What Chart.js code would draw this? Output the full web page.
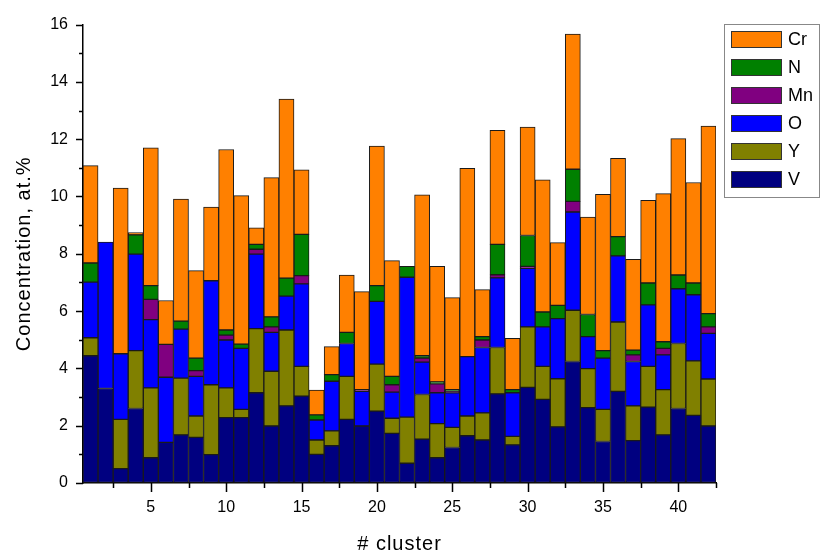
<!DOCTYPE html>
<html>
<head>
<meta charset="utf-8">
<script src="https://cdn.jsdelivr.net/npm/chart.js@4/dist/chart.umd.min.js"></script>
<style>
    html, body { margin: 0; padding: 0; background: #fff; }
</style>
</head>
<body>
<canvas id="clusterChart" width="821" height="553"></canvas>
<script>
// cluster numbers and element concentrations (at.%) per cluster, stacked bottom -> top
const clusters = [1, 2, 3, 4, 5, 6, 7, 8, 9, 10, 11, 12, 13, 14, 15, 16, 17, 18, 19, 20, 21,
                  22, 23, 24, 25, 26, 27, 28, 29, 30, 31, 32, 33, 34, 35, 36, 37, 38, 39, 40, 41, 42];
const V  = [4.44, 3.30, 0.50, 2.60, 0.88, 1.42, 1.68, 1.59, 0.99, 2.28, 2.28, 3.15, 1.99, 2.69, 3.03, 1.00, 1.30, 2.22, 1.99, 2.51, 1.73,
            0.69, 1.53, 0.88, 1.24, 1.65, 1.50, 3.11, 1.33, 3.34, 2.92, 1.96, 4.24, 2.63, 1.45, 3.20, 1.48, 2.65, 1.68, 2.60, 2.36, 1.99];
const Y  = [0.63, 0, 1.72, 2.02, 2.44, 0, 1.98, 0.75, 2.44, 1.04, 0.29, 2.24, 1.91, 2.65, 1.04, 0.50, 0.52, 1.50, 0, 1.64, 0.53,
            1.61, 1.56, 1.19, 0.70, 0.69, 0.95, 1.62, 0.30, 2.11, 1.15, 1.68, 1.79, 1.36, 1.12, 2.42, 1.21, 1.42, 1.58, 2.27, 1.90, 1.64];
const O  = [1.94, 5.11, 2.29, 3.37, 2.38, 2.27, 1.71, 1.38, 3.63, 1.67, 2.13, 2.60, 1.36, 1.18, 2.88, 0.70, 1.73, 1.15, 1.21, 2.19, 0.91,
            4.88, 1.13, 1.08, 1.21, 2.07, 2.28, 2.43, 1.52, 2.04, 1.38, 2.10, 3.43, 1.12, 1.79, 2.31, 1.55, 2.15, 1.21, 1.91, 2.31, 1.59];
const Mn = [0, 0, 0, 0, 0.71, 1.15, 0, 0.20, 0, 0.17, 0, 0.17, 0.19, 0, 0.29, 0, 0, 0, 0.06, 0, 0.26,
            0, 0.14, 0.31, 0.05, 0, 0.26, 0.11, 0, 0.07, 0, 0, 0.37, 0, 0, 0, 0.23, 0, 0.23, 0, 0, 0.23];
const N  = [0.67, 0, 0, 0.67, 0.48, 0, 0.28, 0.44, 0, 0.18, 0.15, 0.17, 0.35, 0.63, 1.44, 0.18, 0.23, 0.39, 0, 0.55, 0.29,
            0.38, 0.08, 0.07, 0.06, 0, 0.12, 1.06, 0.11, 1.08, 0.52, 0.46, 1.12, 0.77, 0.26, 0.67, 0.17, 0.76, 0.23, 0.48, 0.41, 0.46];
const Cr = [3.40, 0, 5.78, 0.08, 4.81, 1.53, 4.26, 3.05, 2.57, 6.30, 5.18, 0.58, 4.86, 6.25, 2.25, 0.86, 0.98, 2.00, 3.42, 4.87, 4.04,
            0, 5.62, 4.03, 3.21, 6.57, 1.64, 3.98, 1.79, 3.78, 4.61, 2.19, 4.72, 3.40, 5.46, 2.73, 3.17, 2.89, 5.17, 4.76, 3.51, 6.55];

const yTickLabels = [0, 2, 4, 6, 8, 10, 12, 14, 16];
const xTickLabels = [5, 10, 15, 20, 25, 30, 35, 40];

const FONT = "'Liberation Sans', Arial, sans-serif";

function series(label, values, color) {
    return {
        label: label,
        data: values.map((v, i) => ({ x: clusters[i], y: v })),
        backgroundColor: color,
        borderColor: '#1a1a1a',
        borderWidth: 1,
        borderSkipped: false,
        barPercentage: 1.0,
        categoryPercentage: 1.0
    };
}

// minor/major tick marks, axis titles and the boxed legend
const decorations = {
    id: 'decorations',
    afterDraw(chart) {
        const { ctx, chartArea, scales: { x, y } } = chart;
        ctx.save();
        ctx.strokeStyle = '#000';
        ctx.lineWidth = 1.5;
        ctx.beginPath();
        for (let v = 0; v <= 16; v++) {
            const py = Math.round(y.getPixelForValue(v)) + 0.5;
            const len = v % 2 ? 4 : 7;
            ctx.moveTo(chartArea.left, py);
            ctx.lineTo(chartArea.left - len, py);
        }
        for (let v = 2.5; v <= 42.5; v += 2.5) {
            const px = Math.round(x.getPixelForValue(v)) + 0.5;
            const len = v % 5 ? 5 : 9;
            ctx.moveTo(px, chartArea.bottom);
            ctx.lineTo(px, chartArea.bottom + len);
        }
        ctx.stroke();

        // axis titles
        ctx.fillStyle = '#000';
        ctx.font = '20px ' + FONT;
        ctx.letterSpacing = '1px';
        ctx.textAlign = 'center';
        ctx.textBaseline = 'middle';
        ctx.fillText('# cluster', (chartArea.left + chartArea.right) / 2, 544);
        ctx.save();
        ctx.translate(24, (chartArea.top + chartArea.bottom) / 2);
        ctx.rotate(-Math.PI / 2);
        ctx.fillText('Concentration, at.%', 0, 0);
        ctx.restore();
        ctx.letterSpacing = '0px';

        // legend, top series first
        const lx = 724, ly = 24;
        ctx.strokeStyle = '#888';
        ctx.lineWidth = 1;
        ctx.strokeRect(lx + 0.5, ly + 0.5, 95, 173);
        ctx.font = '18px ' + FONT;
        ctx.textAlign = 'left';
        const sets = chart.data.datasets.slice().reverse();
        sets.forEach((ds, i) => {
            const top = ly + 7 + i * 28;
            ctx.fillStyle = ds.backgroundColor;
            ctx.fillRect(lx + 7, top, 51, 17);
            ctx.strokeStyle = '#333';
            ctx.strokeRect(lx + 7.5, top + 0.5, 50, 16);
            ctx.fillStyle = '#000';
            ctx.fillText(ds.label, lx + 64, top + 9);
        });
        ctx.restore();
    }
};

const ctx = document.getElementById('clusterChart').getContext('2d');
const clusterChart = new Chart(ctx, {
    type: 'bar',
    data: {
        datasets: [
            series('V', V, '#000080'),
            series('Y', Y, '#808000'),
            series('O', O, '#0000FF'),
            series('Mn', Mn, '#800080'),
            series('N', N, '#008000'),
            series('Cr', Cr, '#FF8000')
        ]
    },
    options: {
        responsive: false,
        animation: false,
        devicePixelRatio: 1,
        layout: { padding: { top: 20, right: 105, bottom: 0, left: 0 } },
        plugins: {
            legend: { display: false },
            tooltip: { enabled: false }
        },
        scales: {
            x: {
                type: 'linear',
                stacked: true,
                offset: false,
                min: 0.5,
                max: 42.5,
                afterBuildTicks: scale => { scale.ticks = xTickLabels.map(v => ({ value: v })); },
                afterFit: scale => { scale.height = 70; },
                grid: { display: true, drawOnChartArea: false, drawTicks: false, offset: false },
                border: { display: true, color: '#000', width: 1.5 },
                ticks: { padding: 15, color: '#000', font: { family: FONT, size: 16 }, maxRotation: 0 }
            },
            y: {
                stacked: true,
                min: 0,
                max: 16,
                afterBuildTicks: scale => { scale.ticks = yTickLabels.map(v => ({ value: v })); },
                afterFit: scale => { scale.width = 83; },
                grid: { display: true, drawOnChartArea: false, drawTicks: false },
                border: { display: true, color: '#000', width: 1.5 },
                ticks: { padding: 15, color: '#000', font: { family: FONT, size: 16 } }
            }
        }
    },
    plugins: [decorations]
});
</script>
</body>
</html>
